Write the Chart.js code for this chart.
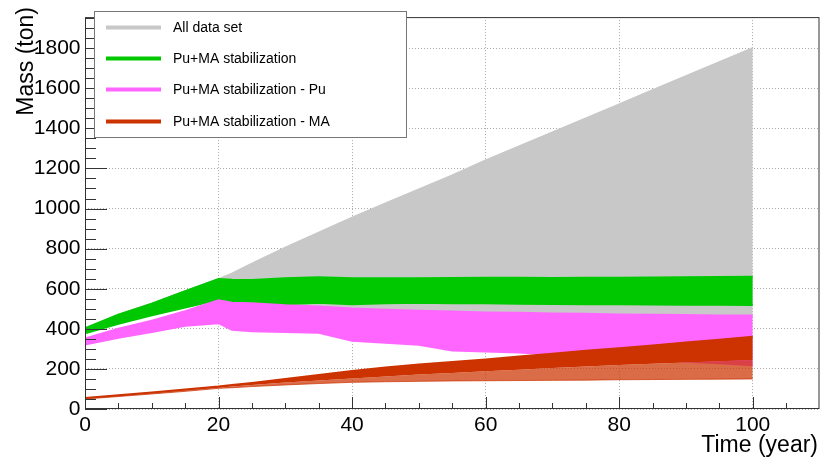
<!DOCTYPE html>
<html>
<head>
<meta charset="utf-8">
<script src="https://cdn.jsdelivr.net/npm/chart.js@4.4.0/dist/chart.umd.min.js"></script>
<style>
  html, body { margin: 0; padding: 0; background: #fff; }
</style>
</head>
<body>
<canvas id="massChart" width="821" height="460"></canvas>
<script>
// time points (year)
const years = [0, 5, 10, 15, 20, 22, 25, 30, 35, 40, 45, 50, 55, 60, 65, 70, 75, 80, 85, 90, 95, 100];

// All data set (min / max envelope)
const allLow  = [378, 425, 467, 506, 545, 530, 528, 517, 511, 501, 495, 490, 486, 482, 480, 477, 475, 472, 470, 469, 467, 466];
const allHigh = [402, 470, 525, 588, 648, 675, 725, 805, 880, 955, 1025, 1095, 1165, 1240, 1310, 1380, 1450, 1520, 1590, 1660, 1730, 1800];

// Pu+MA stabilization
const stabLow  = [378, 425, 467, 506, 545, 535, 527, 522, 530, 522, 527, 530, 528, 527, 525, 524, 523, 522, 521, 520, 520, 519];
const stabHigh = [402, 470, 525, 588, 648, 645, 644, 652, 657, 652, 652, 652, 653, 655, 655, 654, 655, 655, 656, 657, 658, 660];

// Pu+MA stabilization - Pu
const puLow  = [322, 355, 384, 415, 428, 395, 388, 384, 380, 340, 331, 320, 292, 287, 282, 272, 262, 253, 244, 236, 228, 218];
const puHigh = [352, 400, 440, 488, 542, 530, 528, 517, 511, 501, 495, 490, 486, 482, 480, 477, 475, 472, 470, 469, 467, 466];

// Pu+MA stabilization - MA (lower sparse part, dense part, top)
const maLow  = [50, 62, 75, 88, 103, 106, 112, 120, 127, 133, 136, 138, 140, 141, 142, 143, 144, 146, 147, 148, 149, 150];
const maMid  = [52, 64, 78, 92, 106, 112, 120, 132, 142, 152, 162, 172, 180, 188, 196, 204, 212, 220, 226, 232, 238, 244];
const maHigh = [55, 68, 82, 97, 112, 120, 130, 150, 170, 190, 207, 222, 235, 247, 262, 276, 290, 303, 317, 332, 346, 360];

const legendNames = ["All data set", "Pu+MA stabilization", "Pu+MA stabilization - Pu", "Pu+MA stabilization - MA"];

const GRAY = "rgb(200,200,200)";
const GREEN = "rgb(0,200,0)";
const PINK = "rgb(255,102,255)";
const RED = "rgb(204,51,0)";
const RED_LIGHT = "rgba(204,51,0,0.72)";
const FONT = "'Liberation Sans', Arial, Helvetica, sans-serif";

function pts(arr) {
  return years.map((t, i) => ({ x: t, y: arr[i] }));
}

function band(data, color, fillTo, order, bw) {
  return {
    data: pts(data),
    borderColor: color,
    backgroundColor: color,
    borderWidth: bw,
    pointRadius: 0,
    tension: 0,
    fill: fillTo,
    order: order
  };
}

// axis frame, inside ticks, titles and legend (ROOT style)
const decorPlugin = {
  id: "decor",
  afterDatasetsDraw(chart) {
    const ctx = chart.ctx;
    const a = chart.chartArea;
    const xs = chart.scales.x, ys = chart.scales.y;
    ctx.save();
    ctx.strokeStyle = "#333";
    ctx.lineWidth = 1;
    ctx.strokeRect(a.left + 0.5, a.top + 0.5, a.right - a.left - 1, a.bottom - a.top - 1);
    ctx.beginPath();
    for (let v = 0; v <= 1950; v += 50) {
      const y = Math.round(ys.getPixelForValue(v)) + 0.5;
      const len = v % 200 === 0 ? 22 : 11;
      ctx.moveTo(a.left, y);
      ctx.lineTo(a.left + len, y);
    }
    for (let t = 0; t < 110; t += 5) {
      const x = Math.round(xs.getPixelForValue(t)) + 0.5;
      const len = t % 20 === 0 ? 12 : 6;
      ctx.moveTo(x, a.bottom);
      ctx.lineTo(x, a.bottom - len);
    }
    ctx.stroke();
    ctx.restore();
  },
  afterDraw(chart) {
    const ctx = chart.ctx;
    ctx.save();
    ctx.fillStyle = "#000";
    // axis titles
    ctx.font = "23px " + FONT;
    ctx.textAlign = "right";
    ctx.textBaseline = "alphabetic";
    ctx.fillText("Time (year)", 818, 452);
    ctx.translate(33, 7);
    ctx.rotate(-Math.PI / 2);
    ctx.fillText("Mass (ton)", 0, 0);
    ctx.restore();

    // legend box
    ctx.save();
    ctx.fillStyle = "#fff";
    ctx.fillRect(95, 12, 311, 125);
    ctx.strokeStyle = "#777";
    ctx.lineWidth = 1;
    ctx.strokeRect(94.5, 11.5, 312, 126);
    const colors = [GRAY, GREEN, PINK, RED];
    const rows = [27.5, 58.5, 89.5, 121.5];
    ctx.font = "14px " + FONT;
    ctx.textAlign = "left";
    ctx.textBaseline = "middle";
    for (let i = 0; i < legendNames.length; i++) {
      ctx.strokeStyle = colors[i];
      ctx.lineWidth = 4;
      ctx.beginPath();
      ctx.moveTo(106, rows[i]);
      ctx.lineTo(161, rows[i]);
      ctx.stroke();
      ctx.fillStyle = "#000";
      ctx.fillText(legendNames[i], 173, rows[i] + 1);
    }
    ctx.restore();
  }
};

const ctx = document.getElementById("massChart").getContext("2d");
const chart = new Chart(ctx, {
  type: "line",
  data: {
    datasets: [
      band(allLow, GRAY, false, 4, 0),
      band(allHigh, GRAY, 0, 4, 2),
      band(stabLow, GREEN, false, 3, 2),
      band(stabHigh, GREEN, 2, 3, 2),
      band(puLow, PINK, false, 2, 2),
      band(puHigh, PINK, 4, 2, 2),
      band(maLow, RED_LIGHT, false, 1, 1),
      band(maMid, RED_LIGHT, 6, 1, 0),
      band(maHigh, RED, 7, 1, 2)
    ]
  },
  options: {
    responsive: false,
    animation: false,
    devicePixelRatio: 1,
    layout: { padding: { left: 0, top: 7, right: 1.5, bottom: 0 } },
    plugins: {
      legend: { display: false },
      tooltip: { enabled: false }
    },
    scales: {
      x: {
        type: "linear",
        min: 0,
        max: 110,
        afterFit: (s) => { s.height = 51; },
        grid: { color: "#aaa", drawTicks: false },
        border: { display: false, dash: [1, 2] },
        ticks: {
          stepSize: 20,
          includeBounds: false,
          padding: 4,
          color: "#000",
          font: { family: FONT, size: 21 },
          maxRotation: 0,
          callback: (v) => String(v)
        }
      },
      y: {
        min: 0,
        max: 1955,
        afterFit: (s) => { s.width = 85; },
        grid: { color: "#aaa", drawTicks: false },
        border: { display: false, dash: [1, 2] },
        ticks: {
          stepSize: 200,
          includeBounds: false,
          padding: 4.5,
          color: "#000",
          font: { family: FONT, size: 21 },
          callback: (v) => String(v)
        }
      }
    }
  },
  plugins: [decorPlugin]
});
</script>
</body>
</html>
